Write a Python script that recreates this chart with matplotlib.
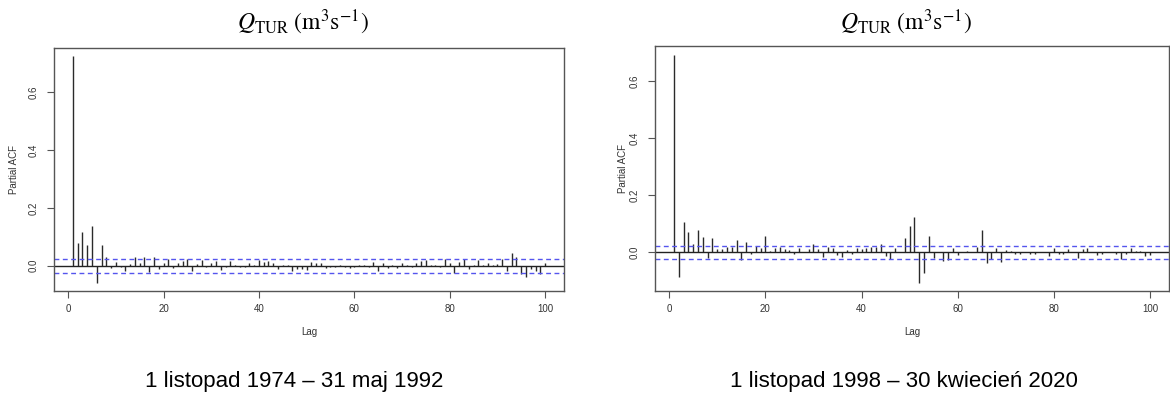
import matplotlib
matplotlib.use("Agg")
import matplotlib.pyplot as plt
import numpy as np

lags = list(range(1, 101))

pacf_1974_1992 = [
    0.725, 0.077, 0.118, 0.072, 0.137, -0.059, 0.072, 0.030, -0.009, 0.014,
    -0.006, -0.018, 0.006, 0.030, 0.010, 0.029, -0.021, 0.030, -0.012, 0.010,
    0.022, -0.007, 0.009, 0.017, 0.023, -0.017, 0.006, 0.018, -0.004, 0.008,
    0.015, -0.015, -0.006, 0.015, 0.003, -0.004, -0.006, 0.010, 0.002, 0.018,
    0.014, 0.015, 0.010, -0.013, 0.001, 0.002, -0.018, -0.013, -0.013, -0.015,
    0.012, 0.008, 0.009, -0.007, -0.003, -0.006, 0.002, -0.005, -0.009, -0.004,
    0.002, 0.002, -0.003, 0.014, -0.018, 0.009, -0.009, 0.002, -0.009, 0.008,
    0.003, -0.005, 0.008, 0.015, 0.018, 0.002, 0.001, -0.006, 0.024, 0.010,
    -0.024, 0.013, 0.022, -0.012, 0.002, 0.021, 0.002, 0.009, 0.001, 0.006,
    0.023, -0.020, 0.043, 0.029, -0.029, -0.039, -0.013, -0.018, -0.027, 0.010,
]

pacf_1998_2020 = [
    0.690, -0.087, 0.107, 0.072, 0.029, 0.078, 0.055, -0.021, 0.049, 0.012,
    0.012, 0.019, 0.020, 0.045, -0.027, 0.036, -0.005, 0.022, 0.015, 0.057,
    0.006, 0.017, 0.020, 0.013, 0.009, -0.005, 0.017, 0.002, 0.012, 0.031,
    0.012, -0.015, 0.020, 0.017, -0.008, -0.017, 0.008, -0.007, 0.015, 0.012,
    0.017, 0.020, 0.020, 0.029, -0.013, -0.023, 0.017, 0.003, 0.052, 0.093,
    0.125, -0.108, -0.073, 0.057, -0.020, 0.002, -0.029, -0.027, 0.015, -0.009,
    0.001, 0.005, 0.002, 0.020, 0.078, -0.038, -0.023, 0.014, -0.033, 0.008,
    0.005, -0.006, -0.006, 0.001, -0.005, -0.006, 0.002, 0.001, -0.012, 0.017,
    -0.007, -0.006, 0.012, 0.002, -0.019, 0.012, 0.017, 0.001, -0.009, -0.006,
    0.002, 0.003, -0.004, -0.023, -0.007, 0.017, 0.005, 0.005, -0.013, -0.009,
]

conf_limits = [0.0245, 0.0221]
periods = ["1 listopad 1974 \u2013 31 maj 1992", "1 listopad 1998 \u2013 30 kwiecie\u0144 2020"]
title_text = r"$\mathit{Q}_{\mathrm{TUR}}\ (\mathrm{m}^{3}\mathrm{s}^{-1})$"
x_ticks = [0, 20, 40, 60, 80, 100]
y_ticks = [0.0, 0.2, 0.4, 0.6]

plt.rcParams['font.family'] = ['Liberation Sans', 'DejaVu Sans']
plt.rcParams['mathtext.fontset'] = 'stix'

fig = plt.figure(figsize=(11.7, 3.99), dpi=100)
W, H = 1170, 399

def ax_rect(x0, x1, y0, y1):
    return [x0 / W, (H - y1) / H, (x1 - x0) / W, (y1 - y0) / H]

rects = [ax_rect(54, 564, 48, 291), ax_rect(655, 1169, 46, 291)]
ylims = [(-0.0875, 0.753), (-0.135, 0.722)]
series = [pacf_1974_1992, pacf_1998_2020]
ylabel_x = [14, 623]
caption_x = [294, 904]

frame_col = '#555555'
text_col = '#333333'

for i in range(2):
    ax = fig.add_axes(rects[i])
    ax.vlines(lags, 0, series[i], colors='#2a2a2a', linewidth=1.0)
    ax.axhline(0, color='#222222', linewidth=1.0)
    for s in (1, -1):
        ax.axhline(s * conf_limits[i], color='#5555ee', linewidth=1.0,
                   linestyle=(0, (3.5, 2.5)))
    ax.set_xlim(-2.96, 103.96)
    ax.set_ylim(*ylims[i])
    ax.set_xticks(x_ticks)
    ax.set_yticks(y_ticks)
    ax.set_yticklabels([f"{v:.1f}" for v in y_ticks], rotation=90, va='center')
    ax.tick_params(axis='both', length=5, width=0.8, color=frame_col,
                   labelsize=7, labelcolor=text_col)
    ax.tick_params(axis='x', pad=4)
    ax.tick_params(axis='y', pad=6)
    for sp in ax.spines.values():
        sp.set_color(frame_col)
        sp.set_linewidth(1.0)
    bb = ax.get_position()
    cx = (bb.x0 + bb.x1) / 2
    fig.text(cx, 1 - 332 / H, "Lag", ha='center', va='center', fontsize=7, color=text_col)
    fig.text(ylabel_x[i] / W, (bb.y0 + bb.y1) / 2, "Partial ACF", ha='center', va='center',
             rotation=90, fontsize=7, color=text_col)
    fig.text(cx - 6 / W, 1 - 22 / H, title_text, ha='center', va='center', fontsize=17, color='black')
    fig.text(caption_x[i] / W, 1 - 381 / H, periods[i], ha='center', va='center', fontsize=16, color='black')

fig.savefig("out.png", dpi=100)
